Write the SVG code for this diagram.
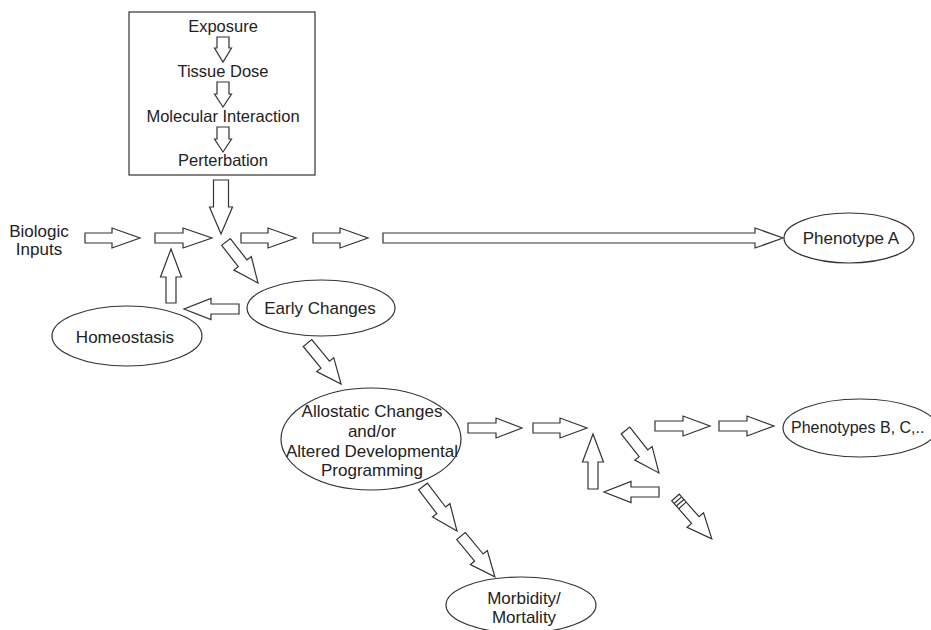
<svg xmlns="http://www.w3.org/2000/svg" width="931" height="630" viewBox="0 0 931 630">
<style>
.bg{fill:#fff}
.shape{fill:#fff;stroke:#333;stroke-width:1.2}
.arr{fill:#fff;stroke:#333;stroke-width:1.2;stroke-linejoin:miter}
.t{font-family:"Liberation Sans",Arial,sans-serif;font-size:17px;fill:#222;text-anchor:middle}
.ts{font-family:"Liberation Sans",Arial,sans-serif;font-size:16.5px;fill:#222;text-anchor:middle}
</style>
<rect class="bg" x="0" y="0" width="931" height="630"/>

<g id="box">
<rect class="shape" x="129" y="12" width="186" height="163"/>
<text class="ts" x="223" y="32">Exposure</text>
<path class="arr" d="M217,37 H229 V48 H231.5 L223,62 L214.5,48 H217 Z"/>
<text class="ts" x="223" y="77">Tissue Dose</text>
<path class="arr" d="M217,82 H229 V94 H231.5 L223,107 L214.5,94 H217 Z"/>
<text class="ts" x="223" y="122">Molecular Interaction</text>
<path class="arr" d="M217,127 H229 V139 H231.5 L223,152 L214.5,139 H217 Z"/>
<text class="ts" x="223" y="166">Perterbation</text>
</g>

<g id="biologic-inputs">
<text class="t" x="39" y="237">Biologic</text>
<text class="t" x="39" y="255">Inputs</text>
</g>

<g id="phenotype-a">
<ellipse class="shape" cx="849" cy="238" rx="65" ry="25"/>
<text class="t" x="851" y="244">Phenotype A</text>
</g>

<g id="early-changes">
<ellipse class="shape" cx="321" cy="308" rx="74" ry="28"/>
<text class="t" x="320" y="314">Early Changes</text>
</g>

<g id="homeostasis">
<ellipse class="shape" cx="127" cy="336" rx="75" ry="30"/>
<text class="t" x="125" y="343">Homeostasis</text>
</g>

<g id="allostatic">
<ellipse class="shape" cx="371" cy="439" rx="90" ry="51"/>
<text class="t" x="372" y="417">Allostatic Changes</text>
<text class="t" x="372" y="437">and/or</text>
<text class="t" x="372" y="457">Altered Developmental</text>
<text class="t" x="372" y="476">Programming</text>
</g>

<g id="phenotypes-b">
<ellipse class="shape" cx="860" cy="428" rx="77" ry="29"/>
<text class="t" x="791" y="433" style="text-anchor:start;font-size:16px">Phenotypes B, C,..</text>
</g>

<g id="morbidity">
<ellipse class="shape" cx="521" cy="605" rx="75" ry="28"/>
<text class="t" x="524" y="604">Morbidity/</text>
<text class="t" x="524" y="623">Mortality</text>
</g>

<g id="connectors">
<path class="arr" d="M213.5,180 H228.5 V207 H232.5 L221,234 L209.5,207 H213.5 Z"/>
<path class="arr" transform="translate(85,238)" d="M0,-5 H27 V-10 L55,0 L27,10 V5 H0 Z"/>
<path class="arr" transform="translate(155,238)" d="M0,-5 H28 V-10 L57,0 L28,10 V5 H0 Z"/>
<path class="arr" transform="translate(241,238)" d="M0,-5 H27 V-10 L55,0 L27,10 V5 H0 Z"/>
<path class="arr" transform="translate(313,238)" d="M0,-5 H27 V-10 L55,0 L27,10 V5 H0 Z"/>
<path class="arr" transform="translate(383,238)" d="M0,-5 H372 V-10 L400,0 L372,10 V5 H0 Z"/>
<path class="arr" transform="translate(226,242) rotate(52)" d="M0,-5.5 H27 V-11 L52,0 L27,11 V5.5 H0 Z"/>
<path class="arr" transform="translate(239,309) rotate(180)" d="M0,-5 H28 V-10.5 L55,0 L28,10.5 V5 H0 Z"/>
<path class="arr" transform="translate(171,303) rotate(-90)" d="M0,-5 H26 V-10.5 L54,0 L26,10.5 V5 H0 Z"/>
<path class="arr" transform="translate(307.5,343) rotate(50.7)" d="M0,-5.5 H28 V-11 L53,0 L28,11 V5.5 H0 Z"/>
<path class="arr" transform="translate(468,428)" d="M0,-5 H28 V-10 L54,0 L28,10 V5 H0 Z"/>
<path class="arr" transform="translate(533,428)" d="M0,-5 H27 V-10 L54,0 L27,10 V5 H0 Z"/>
<path class="arr" transform="translate(593,489) rotate(-90)" d="M0,-5 H27 V-10.5 L55,0 L27,10.5 V5 H0 Z"/>
<path class="arr" transform="translate(659,492) rotate(180)" d="M0,-5 H28 V-10.5 L55,0 L28,10.5 V5 H0 Z"/>
<path class="arr" transform="translate(625.5,430.5) rotate(51.75)" d="M0,-5.5 H29 V-11 L54,0 L29,11 V5.5 H0 Z"/>
<path class="arr" transform="translate(655,426)" d="M0,-5 H28 V-10 L55,0 L28,10 V5 H0 Z"/>
<path class="arr" transform="translate(719,426)" d="M0,-5 H28 V-10 L55,0 L28,10 V5 H0 Z"/>
<g transform="translate(675.5,497.5) rotate(48.7)">
<path class="arr" d="M0,-5 H30 V-11 L55,0 L30,11 V5 H0 Z"/>
<path class="arr" d="M3.5,-5 V5 M7,-5 V5 M10.5,-5 V5"/>
</g>
<path class="arr" transform="translate(423,486.5) rotate(52.6)" d="M0,-5.5 H30 V-11 L56,0 L30,11 V5.5 H0 Z"/>
<path class="arr" transform="translate(461,536) rotate(50.3)" d="M0,-5.5 H28 V-11 L53,0 L28,11 V5.5 H0 Z"/>
</g>
</svg>
